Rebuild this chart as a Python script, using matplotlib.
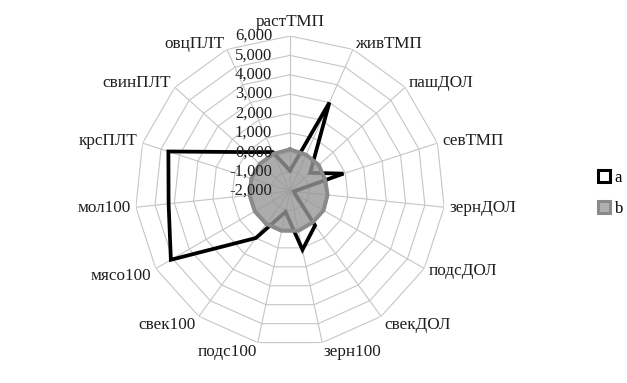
import numpy as np
import matplotlib
matplotlib.use("Agg")
import matplotlib.pyplot as plt
from matplotlib.patches import Patch

plt.rcParams["font.family"] = ["Liberation Serif", "DejaVu Serif"]

# ── data ─────────────────────────────────────────────────────────────────────
categories = ["растТМП", "живТМП", "пашДОЛ", "севТМП", "зернДОЛ", "подсДОЛ",
              "свекДОЛ", "зерн100", "подс100", "свек100", "мясо100", "мол100",
              "крсПЛТ", "свинПЛТ", "овцПЛТ"]
series_a = [-950, 3000, -600, 900, -1800, -1700, 200, 1100, -900, 1000,
            5100, 4300, 4600, 1000, 200]
series_b = [150, 50, 0, -100, -50, 0, 0, 100, 100, 100,
            100, 100, 100, 100, 100]
ticks = [-2000, -1000, 0, 1000, 2000, 3000, 4000, 5000, 6000]
tick_labels = ["-2,000", "-1,000", "0,000", "1,000", "2,000", "3,000",
               "4,000", "5,000", "6,000"]

# ── figure ───────────────────────────────────────────────────────────────────
W, H = 627, 383
fig = plt.figure(figsize=(W / 100, H / 100), dpi=100)
cx, cy, R = 290, 191, 155
ax = fig.add_axes([(cx - R) / W, (H - cy - R) / H, 2 * R / W, 2 * R / H],
                  projection="polar")
ax.set_theta_zero_location("N")
ax.set_theta_direction(-1)
ax.set_ylim(ticks[0], ticks[-1])
ax.grid(False)
ax.set_xticks([])
ax.set_yticks([])
ax.spines["polar"].set_visible(False)
ax.patch.set_alpha(0)

n = len(categories)
theta = np.deg2rad(np.arange(n) * 360 / n)
theta_c = np.append(theta, theta[0])

# polygon grid
for v in ticks[1:]:
    ax.plot(theta_c, [v] * (n + 1), color="#c6c6c6", lw=0.8, zorder=1)
for t in theta:
    ax.plot([t, t], [ticks[0], ticks[-1]], color="#c6c6c6", lw=0.8, zorder=1)

# series
a_c = np.append(series_a, series_a[0])
b_c = np.append(series_b, series_b[0])
ax.plot(theta_c, a_c, color="black", lw=2.7, zorder=2, solid_joinstyle="miter")
ax.fill(theta_c, b_c, color="#979797", alpha=0.8, lw=0, zorder=3)
ax.plot(theta_c, b_c, color="#8a8a8a", lw=2.8, zorder=3)

# radial tick labels
for v, lab in zip(ticks, tick_labels):
    ax.annotate(lab, xy=(0, v), xytext=(-18, 0), textcoords="offset pixels",
                ha="right", va="center", fontsize=12, color="#1e1e1e",
                zorder=5, annotation_clip=False)

# category labels
for t, lab in zip(theta, categories):
    s, c = np.sin(t), np.cos(t)
    if abs(s) < 0.1:
        ha = "center"
    else:
        ha = "left" if s > 0 else "right"
    va = "bottom" if c > 0.95 else "center"
    dx, dy = 5 * s, 6 * c - (4 if c < -0.5 else 0)
    ax.annotate(lab, xy=(t, ticks[-1]), xytext=(dx, dy),
                textcoords="offset pixels", ha=ha, va=va, fontsize=12.3,
                color="#1e1e1e", annotation_clip=False)

handles = [Patch(facecolor="white", edgecolor="black", lw=2.2, label="a"),
           Patch(facecolor="#b0b0b0", edgecolor="#8a8a8a", lw=2.2, label="b")]
fig.legend(handles=handles, loc="center left", bbox_to_anchor=(0.93, 0.496),
           frameon=False, fontsize=12, handlelength=0.7, handleheight=0.7,
           handletextpad=0.3, labelspacing=0.9)

fig.savefig("out.png", dpi=100)
